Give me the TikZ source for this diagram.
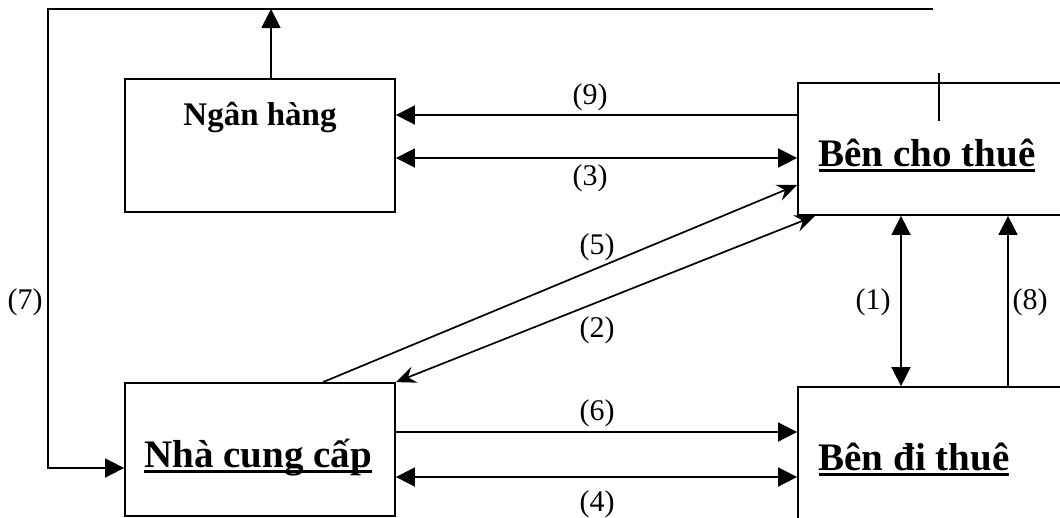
\documentclass[tikz,border=0pt]{standalone}
\usepackage{fontspec}
\setmainfont{Liberation Serif}
\usetikzlibrary{arrows.meta}

% underlined box text with a heavy rule
\newsavebox\ulbox
\newcommand\ultext[1]{\sbox\ulbox{#1}\rlap{\raisebox{-0.16em}{\rule{\wd\ulbox}{0.075em}}}\usebox\ulbox}

\tikzset{
  bigtri/.tip={Triangle[length=19pt,width=19pt]},
  barb/.tip={Stealth[length=20pt,width=17pt,inset=7pt]},
  party/.style={draw, rectangle, line width=1.8pt, inner sep=0pt},
  title/.style={font=\bfseries\fontsize{39}{45}\selectfont, inner sep=0pt, anchor=base},
  num/.style={font=\fontsize{30}{36}\selectfont, inner sep=0pt},
  conn/.style={line width=1.7pt},
}

\begin{document}
\begin{tikzpicture}[x=1pt,y=-1pt]
\useasboundingbox[fill=white] (0,0) rectangle (1060,517);
\clip (0,0) rectangle (1060,517);

% parties
\node[party, minimum width=270pt, minimum height=133pt] (bank) at (260,145.5) {};
\node[party, minimum width=302pt, minimum height=132pt] (lessor) at (949,149) {};
\node[party, minimum width=302pt, minimum height=153pt] (lessee) at (949,463.5) {};
\node[party, minimum width=270pt, minimum height=133pt] (supplier) at (260,449.5) {};

\node[title, font=\bfseries\fontsize{33}{40}\selectfont] (bankT) at (260,125) {Ngân hàng};
\node[title] (lessorT) at (927,166) {\ultext{Bên cho thuê}};
\node[title] (lesseeT) at (914,470) {\ultext{Bên đi thuê}};
\node[title] (supplierT) at (258,467) {\ultext{Nhà cung cấp}};

% short tick on the lessor box
\draw[conn] (939,73) -- (939,121);

% loop (7) over the top and down the left side
\coordinate (topEnd) at (933,9);
\coordinate (topCorner) at (48,9);
\coordinate (bankUp) at (271,9);
\draw[conn,-bigtri] (topEnd) -- (topCorner) |- (supplier.west |- 0,468);
\draw[conn,-bigtri] (bank.north -| bankUp) -- (bankUp);

% bank <-> lessor
\draw[conn,-bigtri] (lessor.west |- 0,115) -- (bank.east |- 0,115);
\draw[conn,bigtri-bigtri] (bank.east |- 0,158) -- (lessor.west |- 0,158);

% supplier <-> lessor
\draw[conn,-barb] (supplier.north -| 323,0) -- (lessor.west |- 0,185);
\draw[conn,barb-barb] (lessor.south -| 815,0) -- (supplier.north east);

% lessor <-> lessee
\draw[conn,bigtri-bigtri] (lessor.south -| 901,0) -- (lessee.north -| 901,0);
\draw[conn,-bigtri] (lessee.north -| 1008,0) -- (lessor.south -| 1008,0);

% supplier <-> lessee
\draw[conn,-bigtri] (supplier.east |- 0,432) -- (lessee.west |- 0,432);
\draw[conn,bigtri-bigtri] (supplier.east |- 0,477) -- (lessee.west |- 0,477);

% step numbers
\node[num] (l9) at (590,97) {(9)};
\node[num] (l3) at (590,178) {(3)};
\node[num] (l5) at (597,247) {(5)};
\node[num] (l2) at (597,330) {(2)};
\node[num] (l6) at (597,413) {(6)};
\node[num] (l4) at (597,504) {(4)};
\node[num] (l1) at (873,302) {(1)};
\node[num] (l8) at (1030,302) {(8)};
\node[num] (l7) at (25,302) {(7)};
\end{tikzpicture}
\end{document}
